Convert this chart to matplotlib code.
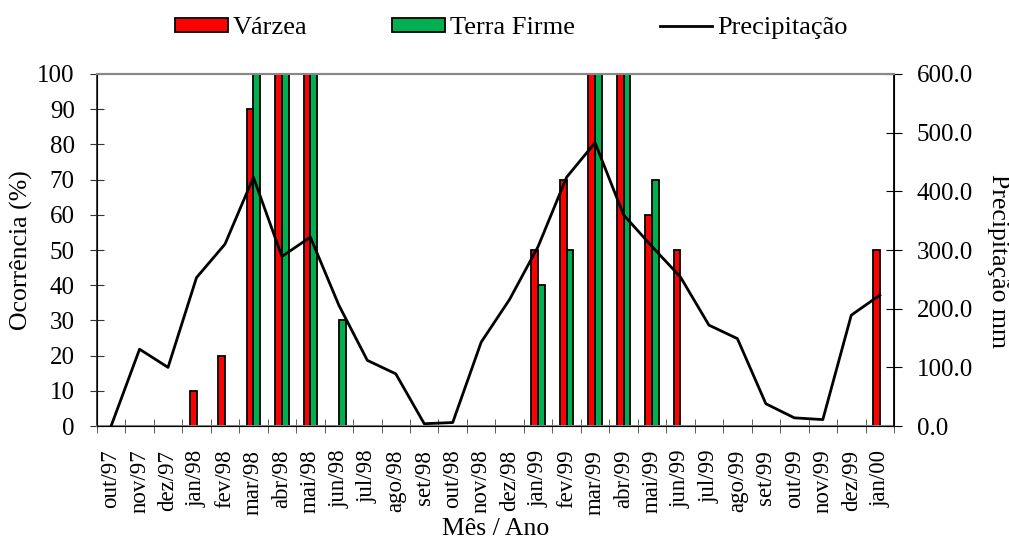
import matplotlib
matplotlib.use("Agg")
import matplotlib.pyplot as plt
import numpy as np

plt.rcParams['font.family'] = ['Liberation Serif', 'DejaVu Serif']

meses = ["out/97", "nov/97", "dez/97", "jan/98", "fev/98", "mar/98", "abr/98",
         "mai/98", "jun/98", "jul/98", "ago/98", "set/98", "out/98", "nov/98",
         "dez/98", "jan/99", "fev/99", "mar/99", "abr/99", "mai/99", "jun/99",
         "jul/99", "ago/99", "set/99", "out/99", "nov/99", "dez/99", "jan/00"]

varzea = [0, 0, 0, 10, 20, 90, 100, 100, 0, 0, 0, 0, 0, 0,
          0, 50, 70, 100, 100, 60, 50, 0, 0, 0, 0, 0, 0, 50]
terra_firme = [0, 0, 0, 0, 0, 100, 100, 100, 30, 0, 0, 0, 0, 0,
               0, 40, 50, 100, 100, 70, 0, 0, 0, 0, 0, 0, 0, 0]
precipitacao = [0, 131, 100, 253, 310, 424, 289, 322, 206, 112, 89, 4, 6, 143,
                216, 306, 424, 483, 360, 306, 254, 172, 149, 38, 14, 11, 189, 223]

fig = plt.figure(figsize=(10.09, 5.4), dpi=100)
ax = fig.add_axes([0.096, 0.211, 0.79, 0.652])
ax2 = ax.twinx()

x = np.arange(len(meses))
w = 0.24
ax.bar(x - w / 2, varzea, w, color="#ff0000", edgecolor="black", linewidth=1.3,
       label="Várzea", zorder=2)
ax.bar(x + w / 2, terra_firme, w, color="#00b050", edgecolor="black", linewidth=1.3,
       label="Terra Firme", zorder=2)
ax2.plot(x, precipitacao, color="black", linewidth=2, label="Precipitação")

ax.set_xlim(-0.5, len(meses) - 0.5)
ax.set_ylim(0, 100)
ax.set_yticks(range(0, 101, 10))
ax2.set_ylim(0, 600)
ax2.set_yticks(range(0, 601, 100))
ax2.set_yticklabels([f"{v:.1f}" for v in range(0, 601, 100)])

ax.set_xticks(x)
ax.set_xticklabels(meses, rotation=90)
ax.set_xticks(np.arange(-0.5, len(meses), 1), minor=True)
ax.tick_params(axis="x", which="major", length=0, labelsize=16.5, pad=17)
ax.tick_params(axis="x", which="minor", length=10, direction="inout", color="#444444")
ax.tick_params(axis="y", labelsize=18, length=10, direction="inout", pad=11,
               color="#333333")
ax2.tick_params(axis="y", labelsize=18, length=11, direction="inout", pad=11)

for side in ["top", "bottom"]:
    ax.spines[side].set_color("#888888")
    ax.spines[side].set_linewidth(1.5)
ax.spines["left"].set_color("#333333")
ax.spines["left"].set_linewidth(1.3)
ax2.spines["top"].set_color("#888888")
ax2.spines["top"].set_linewidth(1.5)
ax2.spines["right"].set_linewidth(1.3)

ax.set_ylabel("Ocorrência (%)", fontsize=18.5, va="center")
ax.yaxis.set_label_coords(-0.095, 0.5)
ax2.set_ylabel("Precipitação mm", fontsize=18.5, rotation=-90, va="center")
ax2.yaxis.set_label_coords(1.13, 0.47)
ax.set_xlabel("Mês / Ano", fontsize=18.5, va="top")
ax.xaxis.set_label_coords(0.5, -0.262)

h1, l1 = ax.get_legend_handles_labels()
h2, l2 = ax2.get_legend_handles_labels()
fig.legend(h1 + h2, l1 + l2, loc="upper center", bbox_to_anchor=(0.507, 1.012),
           ncol=3, frameon=False, fontsize=19, columnspacing=3.2,
           handlelength=2.0, handleheight=0.45, handletextpad=0.2)

fig.savefig("out.png", dpi=100)
